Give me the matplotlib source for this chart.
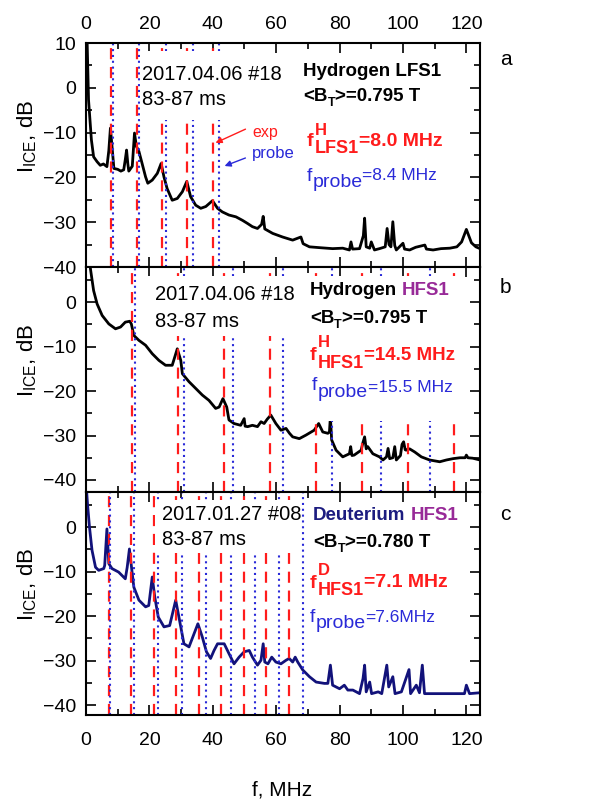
import matplotlib
matplotlib.use('Agg')
import matplotlib.pyplot as plt
from matplotlib.patches import Rectangle, FancyArrowPatch
from matplotlib.ticker import MultipleLocator

plt.rcParams['font.family'] = ['Liberation Sans', 'DejaVu Sans']
plt.rcParams['mathtext.fontset'] = 'custom'
plt.rcParams['mathtext.rm'] = 'Liberation Sans'
plt.rcParams['mathtext.bf'] = 'Liberation Sans:bold'
plt.rcParams['mathtext.it'] = 'Liberation Sans:italic'

# ICE spectra, frequency in MHz and level in dB
freq_a = [0.2, 0.8, 1.7, 2.4, 3.5, 4.5, 5.5, 6.6, 7.2, 7.7,
          8.2, 8.8, 10.0, 11.0, 11.9, 12.4, 12.8, 13.2, 13.5, 14.6,
          15.3, 15.9, 16.7, 17.7, 18.8, 19.5, 20.9, 22.5, 23.7, 24.6,
          25.6, 27.2, 28.8, 30.4, 31.8, 33.0, 34.6, 36.2, 37.8, 39.9,
          41.5, 43.0, 45.1, 47.3, 49.4, 51.0, 52.5, 54.1, 55.4, 55.9,
          56.4, 58.9, 62.0, 65.2, 67.8, 68.5, 70.5, 74.0, 77.8, 81.0,
          83.1, 83.6, 84.1, 86.3, 87.5, 87.9, 88.4, 89.5, 90.0, 91.0,
          92.6, 94.4, 95.0, 95.6, 96.2, 96.8, 97.4, 97.9, 100.0, 100.5,
          102.1, 104.0, 106.9, 107.4, 109.5, 112.0, 114.8, 117.0, 118.5, 120.0,
          121.6, 123.0, 124.3]
ice_a = [15, -2.7, -11.6, -15.4, -16.5, -17.3, -17.0, -17.6, -14.0, -9.0,
         -13.0, -18.0, -18.2, -18.6, -18.3, -16.0, -13.9, -17.0, -18.6, -17.5,
         -10.1, -13.1, -14.2, -16.9, -19.9, -21.3, -20.6, -19.1, -16.9, -19.9,
         -22.5, -25.1, -24.7, -23.2, -20.9, -24.3, -26.2, -26.9, -26.5, -25.2,
         -26.9, -27.7, -28.4, -28.8, -29.6, -30.3, -31.0, -31.4, -30.5, -28.7,
         -31.5, -32.5, -33.3, -34.0, -33.3, -34.8, -35.5, -35.7, -35.9, -35.8,
         -36.2, -34.4, -36.0, -35.9, -33.0, -29.1, -35.5, -35.8, -34.4, -36.2,
         -35.9, -35.5, -31.4, -35.0, -35.5, -29.9, -35.2, -36.2, -34.7, -36.0,
         -36.2, -35.6, -35.1, -36.0, -36.2, -35.9, -35.8, -35.5, -34.4, -31.6,
         -34.6, -35.5, -35.9]

freq_b = [1.2, 1.4, 2.4, 3.5, 5.1, 7.2, 9.3, 10.9, 12.4, 13.8,
          14.3, 15.1, 16.7, 18.8, 20.9, 23.0, 25.1, 27.2, 28.8, 29.9,
          30.4, 32.5, 34.6, 36.7, 38.8, 40.9, 42.0, 43.2, 44.4, 45.1,
          46.7, 48.8, 49.9, 50.2, 51.0, 52.5, 54.1, 55.2, 56.2, 57.2,
          58.3, 59.9, 61.5, 63.1, 64.2, 65.2, 67.3, 69.4, 72.0, 73.4,
          74.7, 76.3, 76.8, 77.1, 77.5, 78.9, 81.0, 83.1, 83.5, 83.9,
          84.6, 86.8, 87.4, 87.9, 88.4, 88.9, 90.5, 92.6, 93.7, 94.8,
          95.3, 95.8, 96.8, 97.4, 97.9, 99.2, 99.7, 100.2, 100.7, 101.0,
          102.1, 103.7, 105.8, 108.4, 110.0, 111.6, 113.7, 115.8, 118.0, 119.6,
          120.0, 120.5, 122.0, 124.3]
ice_b = [12, 7.5, 2.6, -0.4, -3.0, -4.9, -6.0, -5.6, -4.5, -4.3,
         -4.9, -7.5, -8.6, -9.7, -11.6, -13.1, -14.2, -14.2, -10.5, -13.1,
         -16.1, -17.9, -19.4, -20.9, -22.1, -23.9, -23.6, -21.7, -23.6, -26.5,
         -27.3, -27.7, -26.2, -27.9, -28.0, -27.7, -28.0, -26.9, -27.3, -26.3,
         -25.4, -27.3, -28.8, -28.4, -29.5, -30.3, -30.7, -29.9, -28.8, -27.3,
         -29.2, -29.5, -29.2, -25.8, -31.0, -33.3, -34.8, -34.1, -32.5, -34.5,
         -34.4, -33.3, -31.5, -30.3, -33.0, -32.5, -34.1, -34.8, -35.5, -34.8,
         -32.9, -35.2, -35.0, -32.5, -35.5, -34.5, -32.0, -31.4, -33.2, -33.3,
         -33.0, -33.7, -34.8, -35.5, -35.7, -35.9, -35.5, -35.2, -35.0, -35.0,
         -34.4, -35.0, -35.1, -35.5]

freq_c = [0.0, 0.5, 1.1, 1.9, 3.0, 4.0, 5.6, 5.9, 6.6, 7.2,
          8.2, 10.3, 12.4, 13.0, 13.7, 14.6, 15.1, 16.7, 18.8, 19.8,
          20.9, 21.7, 22.8, 24.6, 26.4, 28.3, 29.5, 30.9, 32.5, 33.9,
          35.3, 36.7, 38.0, 39.3, 40.4, 41.5, 43.6, 45.1, 46.7, 48.3,
          49.9, 51.5, 52.5, 54.1, 55.2, 55.9, 56.4, 57.4, 58.6, 59.9,
          61.5, 63.1, 64.1, 65.2, 66.0, 66.8, 68.4, 70.5, 72.6, 75.2,
          76.3, 77.1, 77.8, 80.0, 81.5, 82.6, 84.2, 86.3, 87.4, 87.9,
          88.4, 89.5, 90.1, 92.2, 93.3, 94.9, 95.5, 96.8, 97.5, 99.5,
          101.9, 102.4, 104.2, 105.2, 106.1, 106.8, 109.5, 114.8, 119.4, 120.0,
          121.0, 124.3]
ice_c = [10, 5, 0.0, -5.2, -9.0, -9.7, -9.3, -8.6, -0.4, -8.2,
         -9.3, -10.1, -11.6, -9.0, -4.9, -10.5, -13.5, -16.4, -17.9, -17.6,
         -11.2, -15.7, -20.2, -22.4, -22.1, -16.4, -20.9, -26.2, -26.9, -24.3,
         -21.7, -24.7, -28.0, -29.5, -27.7, -26.2, -26.2, -28.4, -30.7, -29.2,
         -28.0, -27.7, -29.2, -31.0, -29.9, -26.2, -30.3, -30.7, -29.2, -30.3,
         -30.7, -29.9, -29.5, -30.3, -29.2, -30.3, -32.1, -33.6, -34.8, -35.1,
         -35.1, -31.0, -35.5, -36.3, -35.5, -36.6, -36.6, -37.4, -34.0, -31.0,
         -37.0, -34.8, -37.4, -37.0, -37.4, -31.0, -35.9, -33.6, -37.4, -37.0,
         -32.0, -37.4, -35.5, -37.2, -31.0, -37.4, -37.4, -37.4, -37.4, -35.5,
         -37.4, -37.2]

# fundamental frequencies (MHz) and number of harmonics marked
f_exp_a, f_probe_a, n_exp_a, n_probe_a = 8.0, 8.4, 5, 5
f_exp_b, f_probe_b, n_exp_b, n_probe_b = 14.5, 15.5, 8, 7
f_exp_c, f_probe_c, n_exp_c, n_probe_c = 7.1, 7.6, 9, 9

RED = '#ff1c1c'
BLUE = '#2a2ad8'
PURPLE = '#982a98'
NAVY = '#1c1c80'

W, H = 615, 800
fig = plt.figure(figsize=(W / 100, H / 100), dpi=100)


def put(x, y, s, size=14, color='k', weight='normal', ha='left'):
    return fig.text(x / W, 1 - y / H, s, fontsize=size, color=color,
                    fontweight=weight, ha=ha, va='baseline')


def rich(x, y, parts):
    # parts: (text, dy, size, color, weight, gap); gap None keeps x in place
    renderer = fig.canvas.get_renderer()
    for s, dy, size, color, weight, gap in parts:
        t = put(x, y + dy, s, size, color, weight)
        if gap is not None:
            x += t.get_window_extent(renderer).width + gap


def blank(ax, x0, y0, x1, y1):
    # white block behind the labels, under ticks and spines
    r = Rectangle((x0 / W, 1 - y1 / H), (x1 - x0) / W, (y1 - y0) / H,
                  transform=fig.transFigure, facecolor='white', edgecolor='none',
                  zorder=2.4)
    ax.add_artist(r)


def draw_panel(rect, freq, ice, color, ylim, f_exp, f_probe, n_exp, n_probe):
    ax = fig.add_axes(rect)
    ax.plot(freq, ice, color=color, lw=2.0, zorder=2.1)
    for n in range(1, n_exp + 1):
        ax.axvline(n * f_exp, color=RED, lw=1.6, ls=(0, (5, 3.5)), zorder=2.2)
    for n in range(1, n_probe + 1):
        ax.axvline(n * f_probe, color=BLUE, lw=1.5, ls=(0, (1, 1.8)), zorder=2.2)
    ax.set_xlim(0, 124.3)
    ax.set_ylim(*ylim)
    ax.xaxis.set_major_locator(MultipleLocator(20))
    ax.xaxis.set_minor_locator(MultipleLocator(10))
    ax.yaxis.set_major_locator(MultipleLocator(10))
    ax.yaxis.set_minor_locator(MultipleLocator(5))
    ax.tick_params(which='both', direction='in', top=True, right=True,
                   labelsize=14, width=1.2, labelbottom=False)
    ax.tick_params(which='major', length=7)
    ax.tick_params(which='minor', length=4)
    ax.tick_params(axis='y', pad=7)
    for sp in ax.spines.values():
        sp.set_linewidth(1.5)
    ax.text(-0.15, 0.585, r'I$_\mathrm{ICE}$, dB', rotation=90, fontsize=16,
            ha='center', va='center', transform=ax.transAxes)
    return ax


ax_a = draw_panel([86 / W, 1 - 267 / H, 394 / W, 224 / H], freq_a, ice_a, 'k',
                  (-40, 10), f_exp_a, f_probe_a, n_exp_a, n_probe_a)
ax_a.tick_params(axis='x', labeltop=True, pad=7)

ax_b = draw_panel([86 / W, 1 - 492 / H, 394 / W, 225 / H], freq_b, ice_b, 'k',
                  (-42.7, 7.9), f_exp_b, f_probe_b, n_exp_b, n_probe_b)

ax_c = draw_panel([86 / W, 1 - 715 / H, 394 / W, 223 / H], freq_c, ice_c, '#12127a',
                  (-42.2, 7.9), f_exp_c, f_probe_c, n_exp_c, n_probe_c)
ax_c.tick_params(axis='x', labelbottom=True, pad=12)

blank(ax_a, 140, 51, 272, 120)
blank(ax_b, 148, 276, 290, 336)
blank(ax_b, 303, 276, 462, 421)
blank(ax_c, 155, 500, 297, 553)

# panel a annotations
put(142, 80, '2017.04.06 #18', 14.5)
put(142, 105, '83-87 ms', 14.5)
rich(303, 76, [('Hydrogen LFS1', 0, 13.5, 'k', 'bold', 0)])
rich(303, 101, [('<B', 0, 13.5, 'k', 'bold', 0), ('T', 5, 9, 'k', 'bold', 0),
                ('>=0.795 T', 0, 13.5, 'k', 'bold', 0)])
rich(307, 146, [('f', 0, 14, RED, 'bold', 1), ('H', -11, 12, RED, 'bold', None),
                ('LFS1', 7, 13, RED, 'bold', 0), ('=8.0 MHz', 0, 14, RED, 'bold', 0)])
rich(307, 181, [('f', 0, 14, BLUE, 'normal', 0), ('probe', 6, 14, BLUE, 'normal', 0),
                ('=8.4 MHz', -1, 12.5, BLUE, 'normal', 0)])
put(252, 137, 'exp', 11.5, RED)
put(252, 158, 'probe', 12, BLUE)
fig.add_artist(FancyArrowPatch((248 / W, 1 - 128 / H), (213 / W, 1 - 144 / H),
                               transform=fig.transFigure, arrowstyle='-|>',
                               mutation_scale=9, color=RED, lw=1))
fig.add_artist(FancyArrowPatch((248 / W, 1 - 157 / H), (222 / W, 1 - 167 / H),
                               transform=fig.transFigure, arrowstyle='-|>',
                               mutation_scale=9, color=BLUE, lw=1))
put(500, 65, 'a', 15)

# panel b annotations
put(155, 300, '2017.04.06 #18', 14.5)
put(155, 327, '83-87 ms', 14.5)
rich(310, 295, [('Hydrogen', 0, 13.5, 'k', 'bold', 5), ('HFS1', 0, 13.5, PURPLE, 'bold', 0)])
rich(310, 323, [('<B', 0, 13.5, 'k', 'bold', 0), ('T', 5, 9, 'k', 'bold', 0),
                ('>=0.795 T', 0, 13.5, 'k', 'bold', 0)])
rich(310, 360, [('f', 0, 14, RED, 'bold', 1), ('H', -13, 12, RED, 'bold', None),
                ('HFS1', 8, 13, RED, 'bold', 0), ('=14.5 MHz', 0, 13.5, RED, 'bold', 0)])
rich(312, 390, [('f', 0, 14, BLUE, 'normal', 0), ('probe', 7, 14, BLUE, 'normal', 0),
                ('=15.5 MHz', 2, 12.5, BLUE, 'normal', 0)])
put(500, 293, 'b', 15)

# panel c annotations
put(162, 520, '2017.01.27 #08', 14.5)
put(162, 545, '83-87 ms', 14.5)
rich(313, 520, [('Deuterium', 0, 13.5, NAVY, 'bold', 5), ('HFS1', 0, 13.5, PURPLE, 'bold', 0)])
rich(313, 547, [('<B', 0, 13.5, 'k', 'bold', 0), ('T', 5, 9, 'k', 'bold', 0),
                ('>=0.780 T', 0, 13.5, 'k', 'bold', 0)])
rich(310, 588, [('f', 0, 14, RED, 'bold', 1), ('D', -13, 12, RED, 'bold', None),
                ('HFS1', 7, 13, RED, 'bold', 0), ('=7.1 MHz', -1, 14, RED, 'bold', 0)])
rich(310, 622, [('f', 0, 14, BLUE, 'normal', 0), ('probe', 6, 14, BLUE, 'normal', 0),
                ('=7.6MHz', 0, 12.5, BLUE, 'normal', 0)])
put(500, 520, 'c', 15)

put(282, 795, 'f, MHz', 15, ha='center')

fig.savefig('out.png', dpi=100)
